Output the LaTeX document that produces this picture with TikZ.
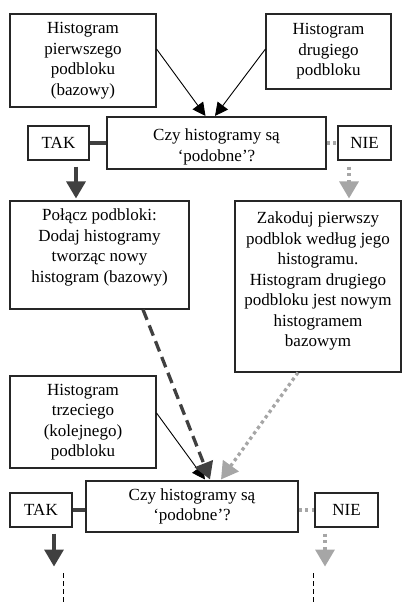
\documentclass[tikz,border=0pt]{standalone}
\usepackage{fontspec}
\setmainfont{Liberation Serif}
\usetikzlibrary{arrows.meta,calc}
\definecolor{dk}{HTML}{404040}
\definecolor{lg}{HTML}{A6A6A6}
\definecolor{bd}{HTML}{262626}
\newcommand{\bxc}[3]{\parbox[c][#2][c]{#1}{\centering #3}}
\newcommand{\bxt}[4]{\parbox[c][#2][t]{#1}{\vspace*{#3}\centering #4}}
\begin{document}
\begin{tikzpicture}[x=1pt,y=-1pt,
  font=\fontsize{17}{20.5}\selectfont,
  box/.style={draw=bd, line width=1.1pt, inner sep=0pt, fill=white},
  thinarrow/.style={draw=black, line width=0.9pt, -{Triangle[width=13pt,length=13pt]}},
  takline/.style={draw=dk, line width=3.3pt},
  nieline/.style={draw=lg, line width=3.3pt, dash pattern=on 3.3pt off 3.3pt},
  takarrow/.style={takline, -{Triangle[width=19pt,length=17pt]}},
  niearrow/.style={nieline, -{Triangle[width=19pt,length=17pt]}},
  dasharrow/.style={draw=dk, line width=3.3pt, dash pattern=on 11pt off 6pt, -{Triangle[width=19pt,length=17pt]}},
  vdash/.style={draw=black, line width=0.8pt, dash pattern=on 5pt off 3pt}]
\useasboundingbox (0,0) rectangle (407,604);

\node[box] (A) at (83,60.5) {\bxc{146pt}{93pt}{Histogram\\pierwszego\\podbloku\\(bazowy)}};
\node[box] (B) at (328.5,51.5) {\bxc{125pt}{75pt}{Histogram\\drugiego\\podbloku}};
\node[box] (C) at (216.5,143) {\bxt{219pt}{52pt}{12pt}{Czy histogramy są\\‘podobne’?}};
\node[box] (T1) at (58.5,143) {\bxc{61pt}{34pt}{TAK}};
\node[box] (N1) at (364.5,143) {\bxc{53pt}{34pt}{NIE}};
\node[box] (D) at (99.5,255) {\bxt{179pt}{108pt}{8pt}{Połącz podbloki:\\Dodaj histogramy\\tworząc nowy\\histogram (bazowy)}};
\node[box] (E) at (318,286.5) {\bxt{166pt}{171pt}{11pt}{Zakoduj pierwszy\\podblok według jego\\histogramu.\\Histogram drugiego\\podbloku jest nowym\\histogramem\\bazowym}};
\node[box] (F) at (83,422) {\bxc{146pt}{92pt}{Histogram\\trzeciego\\(kolejnego)\\podbloku}};
\node[box] (G) at (192,506.5) {\bxc{212pt}{51pt}{Czy histogramy są\\‘podobne’?}};
\node[box] (T2) at (41,510) {\bxc{62pt}{34pt}{TAK}};
\node[box] (N2) at (346.5,510) {\bxc{63pt}{34pt}{NIE}};

% top arrows
\draw[thinarrow] ([yshift=11.5pt]A.east) -- ([xshift=-11pt,yshift=0.5pt]C.north);
\draw[thinarrow] ([yshift=2.5pt]B.west) -- ([xshift=-1.5pt,yshift=0.5pt]C.north);
% decision 1
\draw[takline] (T1.east) -- (C.west);
\draw[nieline] (C.east) -- (N1.west);
\coordinate (t1) at ([xshift=17.5pt,yshift=-6pt]T1.south);
\coordinate (d1) at ([yshift=2pt]D.north);
\draw[takarrow] (t1) -- (t1 |- d1);
\coordinate (n1) at ([xshift=-15.5pt,yshift=-6pt]N1.south);
\coordinate (e1) at ([yshift=2pt]E.north);
\draw[niearrow] (n1) -- (n1 |- e1);
% into second decision
\draw[thinarrow] ([yshift=9pt]F.east) -- ([xshift=13pt,yshift=1pt]G.north);
\draw[dasharrow] ([xshift=43.5pt]D.south) -- ([xshift=18pt,yshift=1pt]G.north);
\draw[niearrow] ([xshift=-20pt]E.south) -- ([xshift=29pt,yshift=1pt]G.north);
% decision 2
\draw[takline] (T2.east) -- (T2.east -| G.west);
\draw[nieline] (N2.west -| G.east) -- (N2.west);
\coordinate (t2) at ([xshift=13pt,yshift=-6pt]T2.south);
\coordinate (t2e) at ([xshift=13pt,yshift=-39pt]T2.south);
\draw[takarrow] (t2) -- (t2e);
\coordinate (n2) at ([xshift=-21.5pt,yshift=-6pt]N2.south);
\coordinate (n2e) at ([xshift=-21.5pt,yshift=-39pt]N2.south);
\draw[niearrow] (n2) -- (n2e);
% continuation
\coordinate (v1a) at (63.3,573);
\coordinate (v1b) at (63.3,605);
\coordinate (v2a) at (313.3,573);
\coordinate (v2b) at (313.3,605);
\draw[vdash] (v1a) -- (v1b);
\draw[vdash] (v2a) -- (v2b);
\end{tikzpicture}
\end{document}
